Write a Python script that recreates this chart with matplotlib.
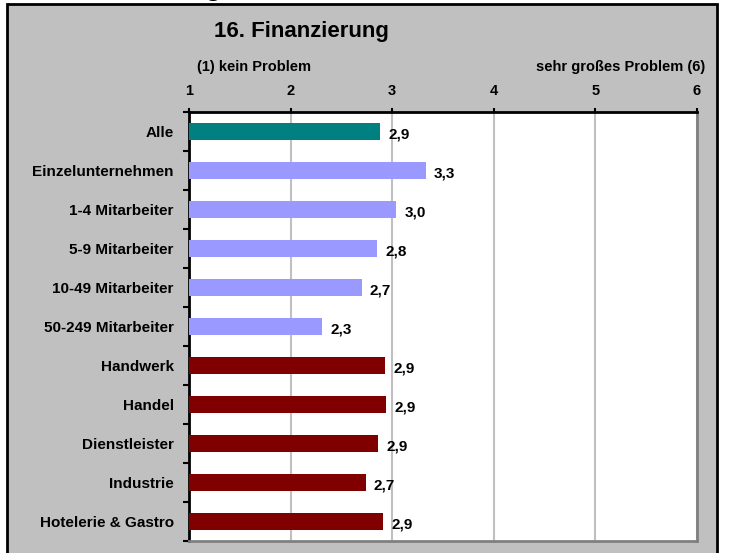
import matplotlib.pyplot as plt
import matplotlib.patches as patches
import numpy as np

plt.rcParams['font.family'] = ['Liberation Sans', 'DejaVu Sans']

categories = ['Alle', 'Einzelunternehmen', '1-4 Mitarbeiter', '5-9 Mitarbeiter',
              '10-49 Mitarbeiter', '50-249 Mitarbeiter', 'Handwerk', 'Handel',
              'Dienstleister', 'Industrie', 'Hotelerie & Gastro']
values = [2.88, 3.33, 3.04, 2.85, 2.70, 2.31, 2.93, 2.94, 2.86, 2.74, 2.91]
labels = ['2,9', '3,3', '3,0', '2,8', '2,7', '2,3', '2,9', '2,9', '2,9', '2,7', '2,9']
groups = ['all', 'size', 'size', 'size', 'size', 'size',
          'branch', 'branch', 'branch', 'branch', 'branch']
group_colors = {'all': '#008080', 'size': '#9999ff', 'branch': '#800000'}
xticks = [1, 2, 3, 4, 5, 6]

fs = 10.5

fig = plt.figure(figsize=(7.29, 5.53), dpi=100)
fig.patch.set_facecolor('white')

# gray frame around the chart
frame = patches.Rectangle((7 / 729, -0.05), 710 / 729, 1.05 - 4 / 553,
                          transform=fig.transFigure, facecolor='#c0c0c0',
                          edgecolor='black', lw=2, zorder=-10)
fig.patches.append(frame)
# tail of the cut-off heading above the frame
fig.text(213 / 729, 1 + 5 / 553, 'g', ha='center', va='baseline',
         fontsize=20, fontweight='bold')

ax = fig.add_axes([189 / 729, 1 - 541 / 553, 508 / 729, 429 / 553])
ax.set_facecolor('white')

y = np.arange(len(categories))
colors = [group_colors[g] for g in groups]
ax.barh(y, np.array(values) - 1, left=1, height=0.44, color=colors, zorder=3)

for yi, v, lab in zip(y, values, labels):
    ax.text(v + 0.08, yi + 0.08, lab, ha='left', va='center',
            fontsize=11, fontweight='bold', zorder=4)

ax.set_xlim(1, 6)
ax.set_ylim(len(categories) - 0.5, -0.5)
ax.xaxis.tick_top()
ax.set_xticks(xticks)
ax.set_xticklabels([str(t) for t in xticks], fontsize=fs, fontweight='bold')
ax.tick_params(axis='x', direction='out', length=3, width=1.5, pad=7)
ax.grid(axis='x', color='#c0c0c0', lw=1.5, zorder=1)

ax.set_yticks(y)
ax.set_yticklabels(categories, fontsize=11, fontweight='bold')
ax.tick_params(axis='y', which='major', length=0, pad=11)
ax.set_yticks(np.arange(len(categories) + 1) - 0.5, minor=True)
ax.tick_params(axis='y', which='minor', direction='out', length=4, width=1.5)

for side in ['left', 'top']:
    ax.spines[side].set_color('black')
    ax.spines[side].set_linewidth(2)
for side in ['right', 'bottom']:
    ax.spines[side].set_color('#808080')
    ax.spines[side].set_linewidth(2)

fig.text(301 / 729, 1 - 37 / 553, '16. Finanzierung', ha='center', va='baseline',
         fontsize=16, fontweight='bold')
fig.text(197 / 729, 1 - 71 / 553, '(1) kein Problem', ha='left', va='baseline',
         fontsize=fs, fontweight='bold')
fig.text(705 / 729, 1 - 71 / 553, 'sehr großes Problem (6)', ha='right', va='baseline',
         fontsize=fs, fontweight='bold')

fig.savefig('out.png', dpi=100)
